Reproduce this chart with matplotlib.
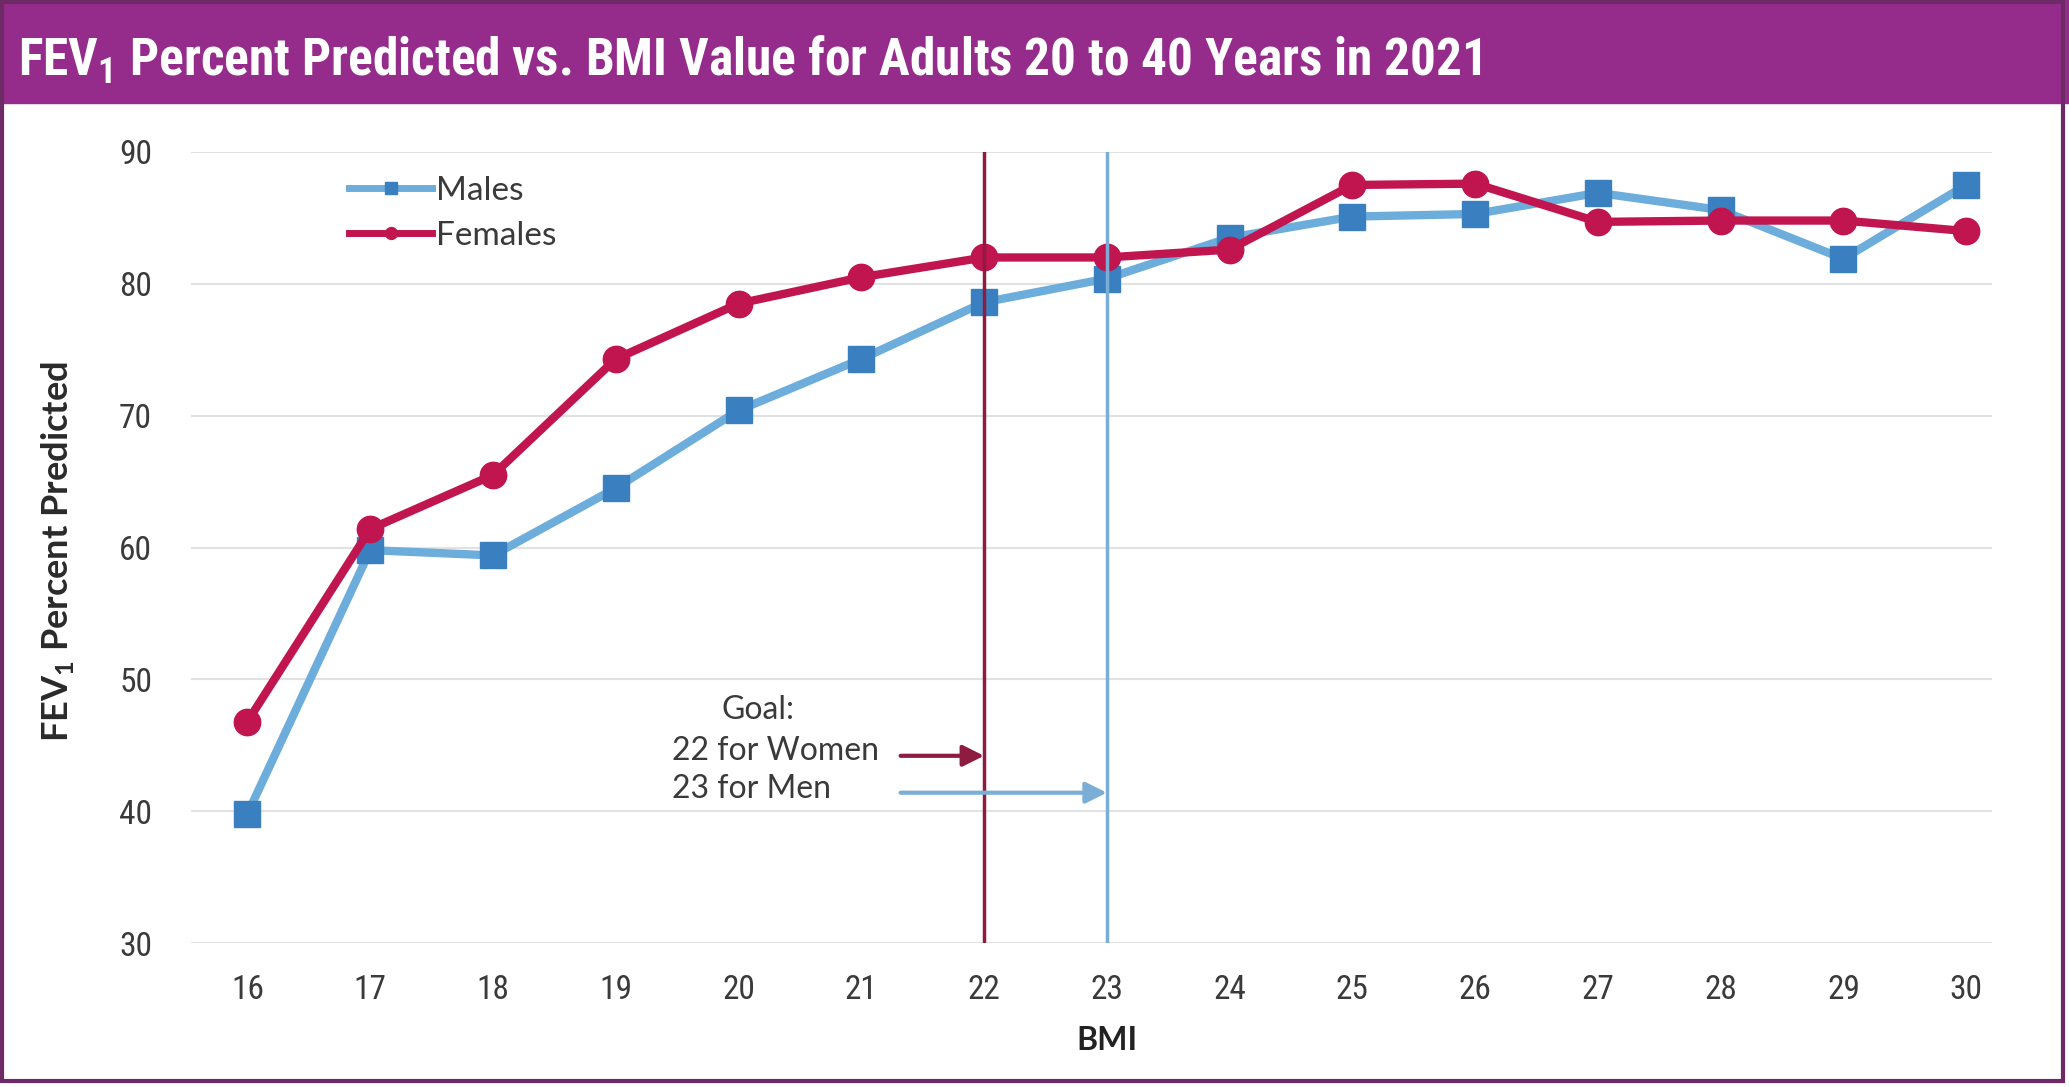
import matplotlib
matplotlib.use("Agg")
import matplotlib.pyplot as plt
from matplotlib import font_manager
from matplotlib.patches import Rectangle

# --- data ---
bmi = [16, 17, 18, 19, 20, 21, 22, 23, 24, 25, 26, 27, 28, 29, 30]
males = [39.8, 59.8, 59.4, 64.5, 70.4, 74.3, 78.6, 80.4, 83.5, 85.1, 85.3, 86.9, 85.6, 81.9, 87.5]
females = [46.8, 61.4, 65.5, 74.3, 78.5, 80.5, 82.0, 82.0, 82.6, 87.5, 87.6, 84.7, 84.8, 84.8, 84.0]
y_ticks = [30, 40, 50, 60, 70, 80, 90]
goal_women = 22
goal_men = 23

TITLE = "FEV$_\\mathregular{1}$ Percent Predicted vs. BMI Value for Adults 20 to 40 Years in 2021"

# colours
PURPLE = "#952c8c"
BORDER = "#6e2a66"
BLUE_LINE = "#6caddc"
BLUE_MARK = "#3a80c0"
RED = "#c0154f"
RED_GOAL = "#8e1b40"
BLUE_GOAL = "#7aaed6"
TEXT = "#3a3a3a"

# pick a narrow face if one is around
installed = {f.name for f in font_manager.fontManager.ttflist}
narrow_pref = ["Liberation Sans Narrow", "DejaVu Sans Condensed", "Roboto Condensed",
               "Open Sans Condensed", "Lato"]
NARROW = [n for n in narrow_pref if n in installed] + ["DejaVu Sans"]
BODY = ["Lato", "DejaVu Sans"]

fig = plt.figure(figsize=(20.69, 10.87), dpi=100)
fig.patch.set_facecolor("white")

# title band + panel border
fig.patches.append(Rectangle((0, 1 - 103 / 1087), 1, 103 / 1087,
                             transform=fig.transFigure, color=PURPLE, zorder=0))
fig.patches.append(Rectangle((2 / 2069, 6 / 1087), 1 - 8 / 2069, 1 - 8 / 1087,
                             transform=fig.transFigure, fill=False,
                             edgecolor=BORDER, lw=3, zorder=1))
title = fig.text(18 / 2069, 1 - 60 / 1087, TITLE, color="white", fontsize=33,
                 fontweight="bold", family=NARROW, va="center", ha="left")

# size the title so it runs to about 1465 px wide
fig.canvas.draw()
r = fig.canvas.get_renderer()
w = title.get_window_extent(r).width
title.set_fontsize(min(40, 33 * 1465 / w))

ax = fig.add_axes([191 / 2069, 1 - 943 / 1087, 1801 / 2069, 791 / 1087])
ax.set_xlim(15.54, 30.21)
ax.set_ylim(30, 90)
for s in ax.spines.values():
    s.set_visible(False)
ax.set_yticks(y_ticks)
ax.set_xticks(bmi)
ax.grid(axis="y", color="#e2e2e2", lw=1.5)
ax.set_axisbelow(True)
ax.tick_params(length=0, labelsize=24, labelcolor=TEXT)
ax.tick_params(axis="y", pad=28)
ax.tick_params(axis="x", pad=22)
for lab in ax.get_xticklabels() + ax.get_yticklabels():
    lab.set_family(NARROW)

ax.plot(bmi, males, color=BLUE_LINE, lw=6, marker="s", ms=19,
        mfc=BLUE_MARK, mec=BLUE_MARK, label="Males", zorder=3)
ax.plot(bmi, females, color=RED, lw=6, marker="o", ms=19,
        mfc=RED, mec=RED, label="Females", zorder=4)

# goal lines
ax.axvline(goal_women, color=RED_GOAL, lw=2.5, zorder=5)
ax.axvline(goal_men, color=BLUE_GOAL, lw=2.5, zorder=5)

ax.text(20.16, 47.7, "Goal:", ha="center", va="center", fontsize=23,
        color=TEXT, family=BODY)
ax.text(19.46, 44.55, "22 for Women", ha="left", va="center", fontsize=23,
        color=TEXT, family=BODY)
ax.text(19.46, 41.7, "23 for Men", ha="left", va="center", fontsize=23,
        color=TEXT, family=BODY)
ax.annotate("", xy=(goal_women, 44.2), xytext=(21.32, 44.2),
            arrowprops=dict(arrowstyle="-|>", color=RED_GOAL, lw=3,
                            mutation_scale=32, shrinkA=0, shrinkB=0), zorder=6)
ax.annotate("", xy=(goal_men, 41.4), xytext=(21.32, 41.4),
            arrowprops=dict(arrowstyle="-|>", color=BLUE_GOAL, lw=3,
                            mutation_scale=32, shrinkA=0, shrinkB=0), zorder=6)

leg = ax.legend(loc="upper left", bbox_to_anchor=(0.071, 1.008), frameon=False,
                handlelength=2.5, handletextpad=0.1, labelspacing=0.45,
                markerscale=0.45, prop={"family": BODY, "size": 24})
for t in leg.get_texts():
    t.set_color(TEXT)
for h in leg.legend_handles:
    h.set_linewidth(5)

ax.set_xlabel("BMI", fontsize=23, color="#222222", family=BODY, fontweight="bold")
ax.xaxis.set_label_coords((23 - 15.54) / (30.21 - 15.54), -0.105)
ax.set_ylabel("FEV$_\\mathregular{1}$ Percent Predicted", fontsize=26,
              fontweight="bold", color="#2a2a2a", family=BODY)
ax.yaxis.set_label_coords(-0.064, 0.495)

fig.savefig("out.png", dpi=100)
